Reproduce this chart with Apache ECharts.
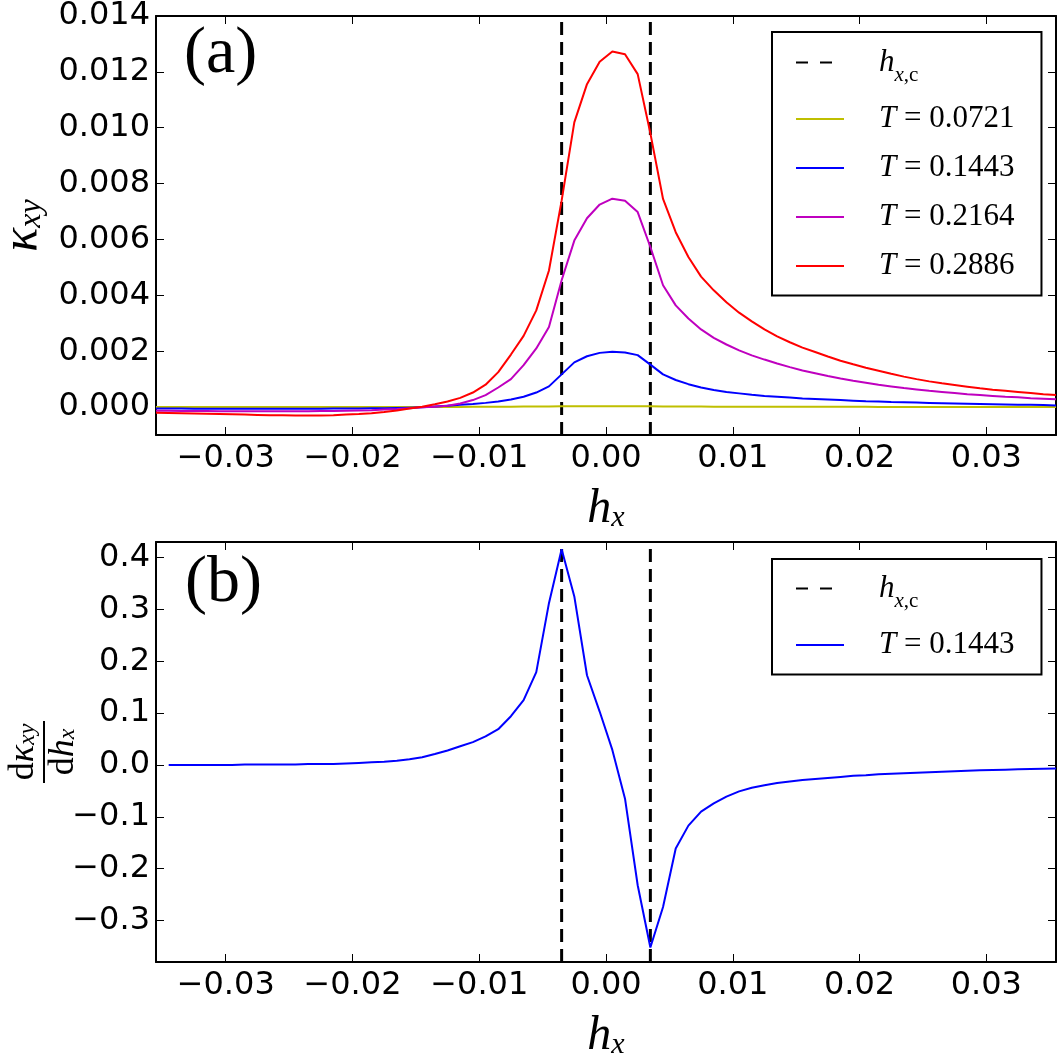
<!DOCTYPE html>
<html>
<head>
<meta charset="utf-8">
<script src="https://cdn.jsdelivr.net/npm/echarts@6/dist/echarts.min.js"></script>
<style>
html, body { margin: 0; padding: 0; background: #fff; }
#chart-container { width: 1058px; height: 1058px; }
</style>
</head>
<body>
<div id="chart-container"></div>
<script>
// h_x grid (same for both panels)
var hx = [
  -0.0355,-0.0345,-0.0335,-0.0325,-0.0315,-0.0305,-0.0295,-0.0285,-0.0275,-0.0265,
  -0.0255,-0.0245,-0.0235,-0.0225,-0.0215,-0.0205,-0.0195,-0.0185,-0.0175,-0.0165,
  -0.0155,-0.0145,-0.0135,-0.0125,-0.0115,-0.0105,-0.0095,-0.0085,-0.0075,-0.0065,
  -0.0055,-0.0045,-0.0035,-0.0025,-0.0015,-0.0005,0.0005,0.0015,0.0025,0.0035,
  0.0045,0.0055,0.0065,0.0075,0.0085,0.0095,0.0105,0.0115,0.0125,0.0135,
  0.0145,0.0155,0.0165,0.0175,0.0185,0.0195,0.0205,0.0215,0.0225,0.0235,
  0.0245,0.0255,0.0265,0.0275,0.0285,0.0295,0.0305,0.0315,0.0325,0.0335,
  0.0345,0.0355
];
var hxc = [-0.0035, 0.0035];

// kappa_xy, panel (a)
var kT0721 = [
  0,0,0,0,0,0,0,0,0,0,
  0,0,0,0,0,0,0,0,0,0,
  0.000002,0.000003,0.000004,0.000005,0.000006,0.000008,0.000010,0.000012,0.000014,0.000016,
  0.000019,0.000022,0.000026,0.000030,0.000032,0.000033,0.000033,0.000032,0.000030,0.000026,
  0.000022,0.000020,0.000018,0.000016,0.000014,0.000013,0.000012,0.000011,0.000010,0.000010,
  0.000009,0.000009,0.000008,0.000008,0.000007,0.000007,0.000007,0.000006,0.000006,0.000006,
  0.000006,0.000005,0.000005,0.000005,0.000005,0.000005,0.000004,0.000004,0.000004,0.000004,
  0.000004,0.000004
];
var kT1443 = [
  -0.00005,-0.00005,-0.00005,-0.00006,-0.00006,-0.00006,-0.00006,-0.00006,-0.00006,-0.00006,
  -0.00006,-0.00006,-0.00006,-0.00006,-0.00005,-0.00005,-0.00005,-0.00004,-0.00004,-0.00003,
  -0.00002,-0.00001,0.00002,0.00005,0.00008,0.00011,0.00015,0.00020,0.00027,0.00037,
  0.00052,0.00074,0.00117,0.00160,0.00182,0.00194,0.00198,0.00195,0.00186,0.00152,
  0.00117,0.00097,0.00082,0.00070,0.00061,0.00054,0.00049,0.00044,0.00040,0.00037,
  0.00034,0.00031,0.00029,0.00027,0.00025,0.00023,0.00021,0.00020,0.00018,0.00017,
  0.00016,0.00015,0.00014,0.00013,0.00012,0.00011,0.00010,0.00009,0.00008,0.00008,
  0.00007,0.00006
];
var kT2164 = [
  -0.00013,-0.00013,-0.00014,-0.00014,-0.00014,-0.00015,-0.00015,-0.00015,-0.00015,-0.00015,
  -0.00015,-0.00015,-0.00015,-0.00014,-0.00014,-0.00013,-0.00012,-0.00011,-0.00009,-0.00007,
  -0.00004,-0.00001,0.00001,0.00005,0.00013,0.00025,0.00043,0.00070,0.00100,0.00150,
  0.00210,0.00287,0.00454,0.00596,0.00676,0.00725,0.00746,0.00739,0.00698,0.00573,
  0.00436,0.00364,0.00317,0.00278,0.00248,0.00224,0.00203,0.00185,0.00170,0.00156,
  0.00143,0.00131,0.00121,0.00111,0.00102,0.00094,0.00087,0.00080,0.00074,0.00068,
  0.00063,0.00058,0.00054,0.00050,0.00046,0.00043,0.00040,0.00037,0.00035,0.00032,
  0.00030,0.00028
];
var kT2886 = [
  -0.00020,-0.00021,-0.00022,-0.00023,-0.00024,-0.00025,-0.00026,-0.00027,-0.00028,-0.00029,
  -0.00029,-0.00030,-0.00030,-0.00030,-0.00029,-0.00027,-0.00025,-0.00022,-0.00018,-0.00012,
  -0.00005,0.00001,0.00010,0.00020,0.00033,0.00052,0.00080,0.00125,0.00188,0.00255,
  0.00346,0.00489,0.00739,0.01019,0.01156,0.01236,0.01273,0.01263,0.01192,0.00980,
  0.00745,0.00626,0.00537,0.00467,0.00418,0.00375,0.00338,0.00307,0.00278,0.00253,
  0.00232,0.00213,0.00197,0.00181,0.00166,0.00153,0.00141,0.00130,0.00119,0.00109,
  0.00100,0.00092,0.00085,0.00079,0.00073,0.00067,0.00062,0.00058,0.00054,0.00050,
  0.00046,0.00043
];

// d kappa_xy / d h_x, panel (b)
var dkT1443 = [
  null,0.000,0.000,0.000,0.000,0.000,0.000,0.001,0.001,0.001,
  0.001,0.001,0.002,0.002,0.002,0.003,0.004,0.005,0.006,0.008,
  0.011,0.015,0.021,0.028,0.036,0.044,0.055,0.069,0.094,0.125,
  0.179,0.312,0.416,0.325,0.173,0.103,0.029,-0.065,-0.232,-0.352,
  -0.274,-0.161,-0.117,-0.090,-0.074,-0.061,-0.051,-0.044,-0.039,-0.035,
  -0.032,-0.029,-0.027,-0.025,-0.023,-0.021,-0.020,-0.018,-0.017,-0.016,
  -0.015,-0.014,-0.013,-0.012,-0.011,-0.010,-0.0095,-0.009,-0.0085,-0.008,
  -0.0075,-0.007
];

// axis ranges and tick labels
var xRange = [-0.0355, 0.0355];
var yRangeA = [-0.001, 0.014];
var yRangeB = [-0.38, 0.43];
var xTicks = [-0.03, -0.02, -0.01, 0, 0.01, 0.02, 0.03];
var xTickLabels = ['\u22120.03', '\u22120.02', '\u22120.01', '0.00', '0.01', '0.02', '0.03'];
var yTicksA = [0, 0.002, 0.004, 0.006, 0.008, 0.010, 0.012, 0.014];
var yTickLabelsA = ['0.000', '0.002', '0.004', '0.006', '0.008', '0.010', '0.012', '0.014'];
var yTicksB = [-0.3, -0.2, -0.1, 0, 0.1, 0.2, 0.3, 0.4];
var yTickLabelsB = ['\u22120.3', '\u22120.2', '\u22120.1', '0.0', '0.1', '0.2', '0.3', '0.4'];

var serif = '"Liberation Serif", "DejaVu Serif", serif';
var sans = '"DejaVu Sans", sans-serif';

function pairs(ys) {
  var out = [];
  for (var i = 0; i < hx.length; i++) {
    if (ys[i] !== null) out.push([hx[i], ys[i]]);
  }
  return out;
}

function tickFmt(ticks, labels) {
  return function (v) {
    for (var i = 0; i < ticks.length; i++) {
      if (Math.abs(v - ticks[i]) < 1e-9) return labels[i];
    }
    return '';
  };
}

function xAx(grid, pos, show) {
  return {
    type: 'value', gridIndex: grid, position: pos,
    min: xRange[0], max: xRange[1], splitNumber: 7,
    axisLine: { onZero: false, lineStyle: { color: '#000', width: 2 } },
    axisTick: { inside: true, length: 8, lineStyle: { color: '#000', width: 1 } },
    axisLabel: { show: show, margin: 8, color: '#000', fontFamily: sans, fontSize: 32,
      formatter: tickFmt(xTicks, xTickLabels) },
    splitLine: { show: false },
    name: show ? '{h|h}{s|x}' : '', nameLocation: 'middle', nameGap: 50,
    nameMoveOverlap: false,
    nameTextStyle: { rich: {
      h: { fontFamily: serif, fontStyle: 'italic', fontSize: 48, lineHeight: 48, color: '#000' },
      s: { fontFamily: serif, fontStyle: 'italic', fontSize: 30, lineHeight: 24, verticalAlign: 'bottom', color: '#000' }
    } }
  };
}

function yAx(grid, pos, show, range, split, ticks, labels, name, rich, gap) {
  return {
    type: 'value', gridIndex: grid, position: pos,
    min: range[0], max: range[1], splitNumber: split,
    axisLine: { onZero: false, lineStyle: { color: '#000', width: 2 } },
    axisTick: { inside: true, length: 8, lineStyle: { color: '#000', width: 1 } },
    axisLabel: { show: show, margin: 6, color: '#000', fontFamily: sans, fontSize: 32,
      formatter: tickFmt(ticks, labels) },
    splitLine: { show: false },
    name: show ? name : '', nameLocation: 'middle', nameGap: gap,
    nameMoveOverlap: false,
    nameTextStyle: { rich: rich }
  };
}

var kRich = {
  k: { fontFamily: serif, fontStyle: 'italic', fontSize: 50, lineHeight: 50, color: '#000' },
  s: { fontFamily: serif, fontStyle: 'italic', fontSize: 32, lineHeight: 24, verticalAlign: 'bottom', color: '#000' }
};
var dRich = {
  n: { fontFamily: serif, fontSize: 36, lineHeight: 32, color: '#000' },
  ni: { fontFamily: serif, fontStyle: 'italic', fontSize: 36, lineHeight: 32, color: '#000' },
  s: { fontFamily: serif, fontStyle: 'italic', fontSize: 24, lineHeight: 20, verticalAlign: 'bottom', color: '#000' },
  bar: { width: 62, height: 2, lineHeight: 8, backgroundColor: '#000' }
};

var legendRich = {
  sp: { width: 30 },
  sph: { width: 30, lineHeight: 46 },
  i: { fontFamily: serif, fontStyle: 'italic', fontSize: 31, lineHeight: 34, color: '#000' },
  r: { fontFamily: serif, fontSize: 31, lineHeight: 34, color: '#000' },
  si: { fontFamily: serif, fontStyle: 'italic', fontSize: 21, lineHeight: 20, verticalAlign: 'bottom', color: '#000' },
  sr: { fontFamily: serif, fontSize: 21, lineHeight: 20, verticalAlign: 'bottom', color: '#000' }
};
function legendFmt(name) {
  if (name === 'hxc') return '{sph|}{i|h}{si|x}{sr|,c}';
  var p = name.split('=');
  return '{sp|}{i|' + p[0] + '}{r| = ' + p[1] + '}';
}

function curve(name, color, xi, yi, ys) {
  return {
    name: name, type: 'line', xAxisIndex: xi, yAxisIndex: yi,
    data: pairs(ys), symbol: 'none', showSymbol: false, clip: true,
    lineStyle: { color: color, width: 2 }, itemStyle: { color: color },
    emphasis: { disabled: true }, z: 3
  };
}

// vertical dashed lines at the critical fields, one series per line
function critLine(v, xi, yi, range) {
  return {
    name: 'hxc', type: 'line', xAxisIndex: xi, yAxisIndex: yi,
    data: [[v, range[0]], [v, range[1]]],
    symbol: 'none', showSymbol: false, z: 2,
    lineStyle: { color: '#000', width: 3, type: [13, 7] },
    itemStyle: { color: '#000' },
    emphasis: { disabled: true }
  };
}

function legendBox(top, names, padding) {
  return {
    orient: 'vertical', left: 772, top: top, selectedMode: false,
    data: names.map(function (n) {
      return n === 'hxc' ? { name: n, lineStyle: { type: [12, 12] } } : { name: n };
    }),
    itemWidth: 48, itemHeight: 14, itemGap: 18,
    padding: padding,
    borderColor: '#000', borderWidth: 2, backgroundColor: '#fff',
    itemStyle: { opacity: 0 },
    formatter: legendFmt, textStyle: { rich: legendRich }
  };
}

var myChart = echarts.init(document.getElementById('chart-container'), null, { renderer: 'canvas' });

var option = {
  animation: false,
  backgroundColor: '#fff',
  grid: [
    { left: 156, top: 16, width: 900, height: 419, containLabel: false, outerBoundsMode: 'none' },
    { left: 156, top: 542, width: 900, height: 420, containLabel: false, outerBoundsMode: 'none' }
  ],
  xAxis: [
    xAx(0, 'bottom', true), xAx(0, 'top', false),
    xAx(1, 'bottom', true), xAx(1, 'top', false)
  ],
  yAxis: [
    yAx(0, 'left', true, yRangeA, 7, yTicksA, yTickLabelsA, '{k|\u03ba}{s|xy}', kRich, 108),
    yAx(0, 'right', false, yRangeA, 7, yTicksA, yTickLabelsA),
    yAx(1, 'left', true, yRangeB, 8, yTicksB, yTickLabelsB,
      '{n|d}{ni|\u03ba}{s|xy}\n{bar|}\n{n|d}{ni|h}{s|x}', dRich, 76),
    yAx(1, 'right', false, yRangeB, 8, yTicksB, yTickLabelsB)
  ],
  legend: [
    legendBox(32, ['hxc', 'T=0.0721', 'T=0.1443', 'T=0.2164', 'T=0.2886'], [15, 27, 14, 23]),
    legendBox(559, ['hxc', 'T=0.1443'], [14, 27, 14, 23])
  ],
  graphic: [
    { type: 'text', left: 184, top: 22, style: { text: '(a)', font: '66px ' + serif, fill: '#000' } },
    { type: 'text', left: 185, top: 551, style: { text: '(b)', font: '66px ' + serif, fill: '#000' } }
  ],
  series: [
    critLine(hxc[0], 0, 0, yRangeA),
    critLine(hxc[1], 0, 0, yRangeA),
    curve('T=0.0721', '#bfbf00', 0, 0, kT0721),
    curve('T=0.1443', '#0000ff', 0, 0, kT1443),
    curve('T=0.2164', '#bf00bf', 0, 0, kT2164),
    curve('T=0.2886', '#ff0000', 0, 0, kT2886),
    critLine(hxc[0], 2, 2, yRangeB),
    critLine(hxc[1], 2, 2, yRangeB),
    curve('T=0.1443', '#0000ff', 2, 2, dkT1443)
  ]
};

myChart.setOption(option);
</script>
</body>
</html>
